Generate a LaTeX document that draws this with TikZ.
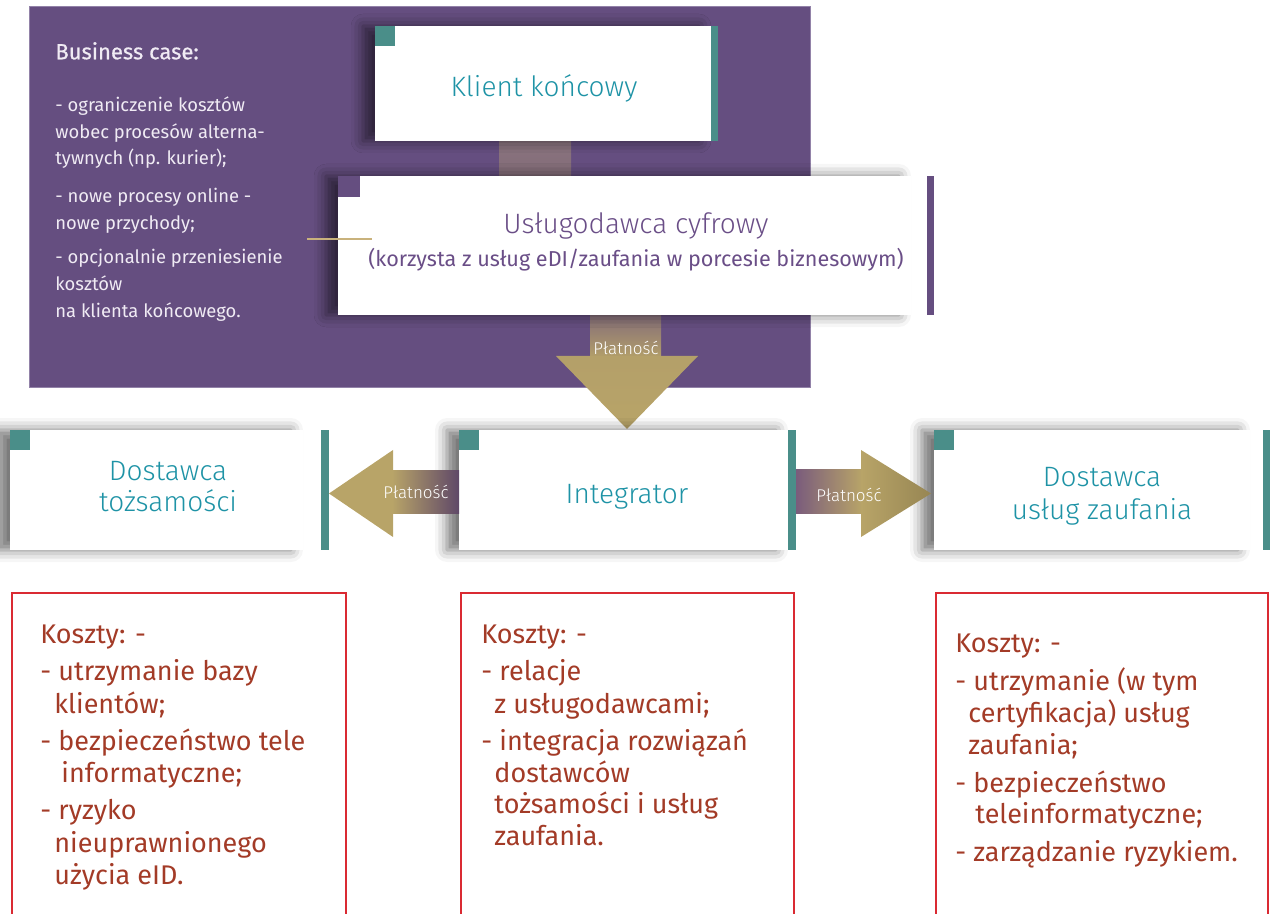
\documentclass[tikz,border=0pt]{standalone}
\usepackage{fontspec}
\setmainfont{Fira Sans}
\newfontfamily\lightfont{Fira Sans Light}
\newfontfamily\mediumfont[FakeBold=0.6]{Fira Sans}
\usetikzlibrary{shadows.blur}
\definecolor{purplebg}{HTML}{654E80}
\definecolor{purpleedge}{HTML}{9282A8}
\definecolor{tealc}{HTML}{4A8E89}
\definecolor{titleblue}{HTML}{1E93A6}
\definecolor{purpletext}{HTML}{6A4E87}
\definecolor{goldc}{HTML}{B8A468}
\definecolor{golddark}{HTML}{978653}
\definecolor{stemtop}{HTML}{836C78}
\definecolor{stempurple}{HTML}{5F4868}
\definecolor{stempurple2}{HTML}{7A5C7C}
\definecolor{redc}{HTML}{DA2A32}
\definecolor{costtext}{HTML}{A33B27}
\definecolor{lavtext}{HTML}{F0EBF4}
\definecolor{linegold}{HTML}{C9B27C}
\tikzset{
  whitebox/.style={fill=white, draw=none, inner sep=0pt, outer sep=0pt,
    blur shadow={shadow xshift=-6pt, shadow yshift=0pt, shadow blur radius=6pt, shadow opacity=55}},
  titletext/.style={font=\lightfont\fontsize{14}{17}\selectfont, text=titleblue, anchor=base, inner sep=0pt},
  bctext/.style={font=\fontsize{9.2}{12}\selectfont, text=lavtext, anchor=base west, inner sep=0pt},
  costline/.style={font=\fontsize{13.5}{16}\selectfont, text=costtext, anchor=base west, inner sep=0pt},
  paylabel/.style={font=\lightfont\fontsize{8.5}{10}\selectfont, text=white, anchor=base, inner sep=0pt},
  redbox/.style={draw=redc, line width=1pt},
}
\begin{document}
\begin{tikzpicture}[x=0.5pt,y=-0.5pt]
\useasboundingbox (0,0) rectangle (1270,914);
% purple background
\fill[purplebg] (29,7) rectangle (810,388);
\draw[purpleedge, line width=0.5pt] (29,7) rectangle (810,388);

% connector Klient -> Uslugodawca
\shade[top color=stemtop!95!white, bottom color=stemtop] (499,140) rectangle (571,177);

% down arrow
\shade[top color=stemtop, bottom color=goldc!90!stemtop] (590,314) rectangle (661,357);
\shade[top color=goldc!92!stemtop, bottom color=goldc] (556,356) -- (698,356) -- (627,429) -- cycle;
\node[paylabel] (payD) at (626,355) {Płatność};

% Klient koncowy
\node[whitebox, minimum width=168pt, minimum height=57.5pt] (klient) at (543,83.5) {};
\fill[tealc] (klient.north west) rectangle ++(20,20);
\fill[tealc] (711,26) rectangle (718,141);
\node[titletext] (klientT) at (544,96.5) {Klient końcowy};

% Uslugodawca cyfrowy
\node[whitebox, minimum width=286.5pt, minimum height=69.5pt] (uslug) at (624.5,245.5) {};
\fill[purplebg] (uslug.north west) rectangle ++(22,21);
\fill[purplebg] (927,176) rectangle (934,315);
\node[titletext, text=purpletext] (uslugT) at (636,233.3) {Usługodawca cyfrowy};
\node[titletext, text=purpletext, font=\fontsize{10.8}{13}\selectfont] (uslugS) at (636,266.7) {(korzysta z usług eDI/zaufania w porcesie biznesowym)};
\coordinate (glA) at (307,239);
\coordinate (glB) at (372,239);
\draw[linegold, line width=1.1pt] (glA) -- (glB);

% Business case text
\node[bctext, font=\mediumfont\fontsize{11}{13}\selectfont] (bc0) at (55,59.3) {Business case:};
\node[bctext] (bc1) at (55,111.7) {- ograniczenie kosztów};
\node[bctext] (bc2) at (55,138.3) {wobec procesów alterna-};
\node[bctext] (bc3) at (55,164.3) {tywnych (np. kurier);};
\node[bctext] (bc4) at (55,202.7) {- nowe procesy online -};
\node[bctext] (bc5) at (55,229.3) {nowe przychody;};
\node[bctext] (bc6) at (55,264) {- opcjonalnie przeniesienie};
\node[bctext] (bc7) at (55,291) {kosztów};
\node[bctext] (bc8) at (55,317.7) {na klienta końcowego.};

% middle row boxes
\node[whitebox, minimum width=146.5pt, minimum height=60pt] (dost1) at (156.5,490) {};
\fill[tealc] (dost1.north west) rectangle ++(20,20);
\fill[tealc] (321,430) rectangle (329,550);
\node[titletext] (dost1a) at (168,480.7) {Dostawca};
\node[titletext] (dost1b) at (168,511.7) {tożsamości};

\node[whitebox, minimum width=164.5pt, minimum height=60pt] (integ) at (623.5,490) {};
\fill[tealc] (integ.north west) rectangle ++(20,20);
\fill[tealc] (788,430) rectangle (796,550);
\node[titletext] (integT) at (627,504) {Integrator};

\node[whitebox, minimum width=158pt, minimum height=60pt] (dost2) at (1092,490) {};
\fill[tealc] (dost2.north west) rectangle ++(20,20);
\fill[tealc] (1263,430) rectangle (1270,550);
\node[titletext] (dost2a) at (1102,487) {Dostawca};
\node[titletext] (dost2b) at (1102,520) {usług zaufania};

% left arrow (Integrator -> Dostawca tozsamosci)
\shade[left color=goldc, right color=stempurple] (392,471) rectangle (459,514);
\fill[goldc] (393,450) -- (393,537) -- (329,493.5) -- cycle;
\node[paylabel] (payL) at (416,499) {Płatność};

% right arrow (Integrator -> Dostawca uslug zaufania)
\shade[left color=stempurple2, right color=goldc] (796,470) rectangle (862,514);
\shade[left color=goldc, right color=golddark] (861,450) -- (861,537) -- (931,493.5) -- cycle;
\node[paylabel] (payR) at (849,501.7) {Płatność};

% cost boxes
\draw[redbox] (12,930) -- (12,593) -- (346,593) -- (346,930);
\draw[redbox] (461,930) -- (461,593) -- (794,593) -- (794,930);
\draw[redbox] (936,930) -- (936,593) -- (1268,593) -- (1268,930);

\node[costline] (c1a) at (40,644) {Koszty: -};
\node[costline] (c1b) at (40,681) {- utrzymanie bazy};
\node[costline] (c1c) at (54,713) {klientów;};
\node[costline] (c1d) at (40,750) {- bezpieczeństwo tele};
\node[costline] (c1e) at (61,782) {informatyczne;};
\node[costline] (c1f) at (40,819) {- ryzyko};
\node[costline] (c1g) at (54,852) {nieuprawnionego};
\node[costline] (c1h) at (54,884) {użycia eID.};

\node[costline] (c2a) at (481,644) {Koszty: -};
\node[costline] (c2b) at (481,681) {- relacje};
\node[costline] (c2c) at (494,713) {z usługodawcami;};
\node[costline] (c2d) at (481,750) {- integracja rozwiązań};
\node[costline] (c2e) at (494,782) {dostawców};
\node[costline] (c2f) at (494,813) {tożsamości i usług};
\node[costline] (c2g) at (494,845) {zaufania.};

\node[costline] (c3a) at (955,653) {Koszty: -};
\node[costline] (c3b) at (955,690) {- utrzymanie (w tym};
\node[costline] (c3c) at (968,722) {certyfikacja) usług};
\node[costline] (c3d) at (968,754) {zaufania;};
\node[costline] (c3e) at (955,792) {- bezpieczeństwo};
\node[costline] (c3f) at (975,823) {teleinformatyczne;};
\node[costline] (c3g) at (955,861) {- zarządzanie ryzykiem.};
\end{tikzpicture}
\end{document}
